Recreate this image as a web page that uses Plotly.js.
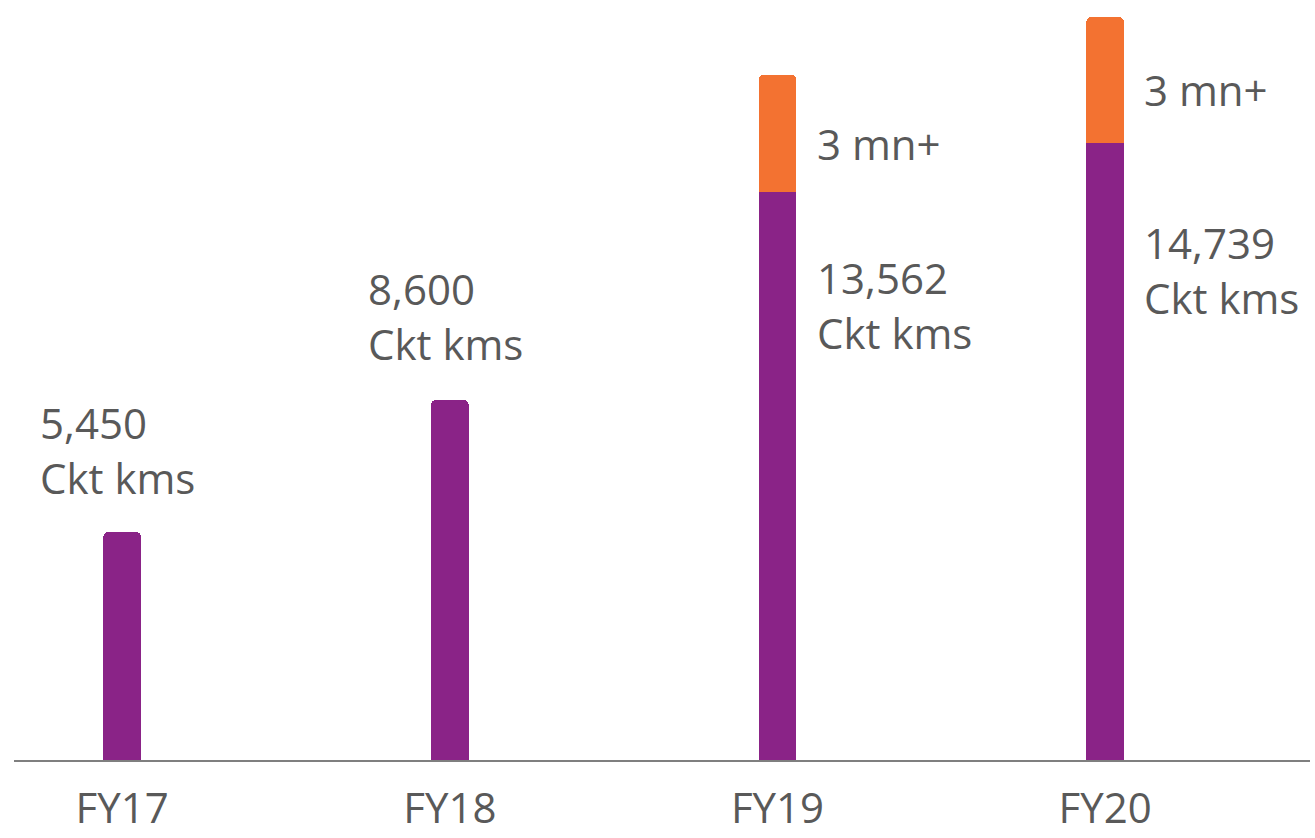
<!DOCTYPE html>
<html>
<head>
<meta charset="utf-8">
<script src="https://cdn.plot.ly/plotly-3.0.1.min.js"></script>
<style>html,body{margin:0;padding:0;background:#fff;}#chart{width:1315px;height:838px;}</style>
</head>
<body>
<div id="chart"></div>
<script>
const categories = ["FY17", "FY18", "FY19", "FY20"];
const circuitKms = [5450, 8600, 13562, 14739];
const extraSegment = [0, 0, 2800, 3000];
const circuitLabels = ["5,450<br>Ckt kms", "8,600<br>Ckt kms", "13,562<br>Ckt kms", "14,739<br>Ckt kms"];
const extraLabels = ["", "", "3 mn+", "3 mn+"];

const FONT = "'Open Sans', Lato, sans-serif";
const TXT = "#595959";
const purple = "#8a2387";
const orange = "#f37231";

const traces = [
  {type: "bar", x: categories, y: circuitKms, width: 0.115, marker: {color: purple, cornerradius: 5}, hoverinfo: "skip"},
  {type: "bar", x: categories, y: extraSegment, width: 0.115, marker: {color: orange, cornerradius: 5}, hoverinfo: "skip"}
];

// label placement (pixel offsets relative to bar tops)
const circXShift = [-84, -84, 37, 37];
const circYShift = [82, 84, -113, -127];
const annotations = [];
categories.forEach((c, i) => {
  annotations.push({x: c, y: circuitKms[i], xref: "x", yref: "y", text: circuitLabels[i],
    xanchor: "left", yanchor: "middle", align: "left", xshift: circXShift[i], yshift: circYShift[i],
    showarrow: false, font: {family: FONT, size: 42, color: TXT}});
  if (extraLabels[i]) {
    annotations.push({x: c, y: circuitKms[i] + extraSegment[i] / 2, xref: "x", yref: "y", text: extraLabels[i],
      xanchor: "left", yanchor: "middle", align: "left", xshift: 37, yshift: -10,
      showarrow: false, font: {family: FONT, size: 42, color: TXT}});
  }
});

const layout = {
  width: 1315, height: 838,
  margin: {l: 14, r: 5, t: 0, b: 78},
  paper_bgcolor: "#fff", plot_bgcolor: "#fff",
  barmode: "stack",
  showlegend: false,
  xaxis: {type: "category", range: [-0.33, 3.625], showline: true, linecolor: "#7f7f7f", linewidth: 2,
    layer: "below traces", ticks: "", showgrid: false, zeroline: false, fixedrange: true,
    ticklabelstandoff: 11,
    tickfont: {family: FONT, size: 42, color: TXT}},
  yaxis: {range: [0, 18147], visible: false, showgrid: false, zeroline: false, fixedrange: true},
  annotations: annotations
};

Plotly.newPlot("chart", traces, layout, {displayModeBar: false, staticPlot: true});
</script>
</body>
</html>
